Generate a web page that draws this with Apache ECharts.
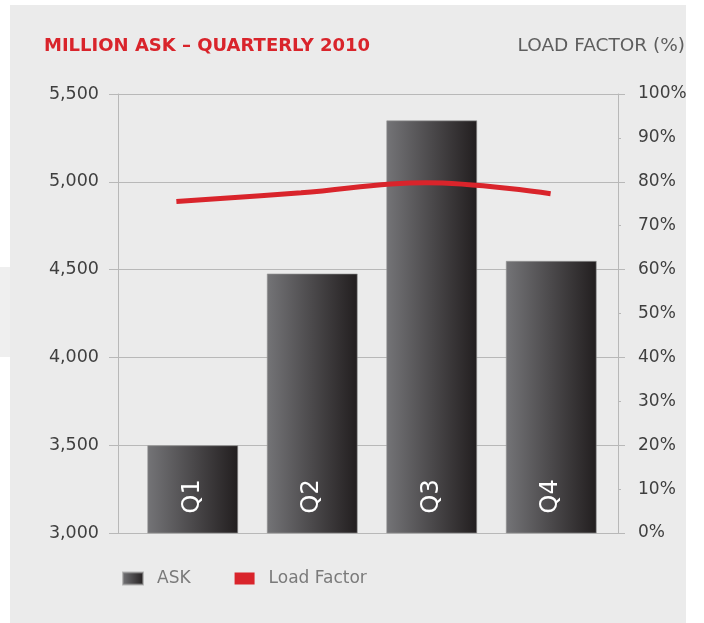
<!DOCTYPE html>
<html>
<head>
<meta charset="utf-8">
<title>Million ASK - Quarterly 2010</title>
<script src="https://cdn.jsdelivr.net/npm/echarts@6/dist/echarts.min.js"></script>
<style>
	html,body{margin:0;padding:0;background:#fff;}
	#chart{width:704px;height:623px;}
</style>
</head>
<body>
<div id="chart"></div>
<script>
// data
const quarters = ['Q1', 'Q2', 'Q3', 'Q4']
const askValues = [3500, 4478, 5350, 4550]
const loadFactor = [75.5, 77.5, 79.8, 77.3]

const askMin = 3000
const askMax = 5500
const askStep = 500

const gridColor = '#b8b8b8'
const labelColor = '#3f3f3f'
const red = '#d9242b'
const font = 'DejaVu Sans'

const chart = echarts.init(document.getElementById('chart'))

const barColor = new echarts.graphic.LinearGradient(0, 0, 1, 0, [
	{offset: 0, color: '#747477'},
	{offset: 1, color: '#221e1f'}
])

chart.setOption({
	backgroundColor: '#ffffff',
	animation: false,
	graphic: [
		{type: 'rect', z: -10, shape: {x: 10, y: 5, width: 676, height: 618}, style: {fill: '#ebebeb'}},
		{type: 'rect', z: -10, shape: {x: 0, y: 267, width: 10, height: 90}, style: {fill: '#efefef'}}
	],
	title: [
		{
			text: 'MILLION ASK \u2013 QUARTERLY 2010',
			left: 44, top: 37, padding: 0,
			textStyle: {color: red, fontFamily: font, fontWeight: 'bold', fontSize: 18}
		},
		{
			text: 'LOAD FACTOR (%)',
			right: 19, top: 37, padding: 0,
			textStyle: {color: '#5e5e5e', fontFamily: font, fontWeight: 'normal', fontSize: 18.5}
		}
	],
	legend: {
		left: 122, top: 570, padding: 0,
		itemWidth: 20, itemHeight: 12, itemGap: 44,
		textStyle: {color: '#7a7a7a', fontFamily: font, fontSize: 17, padding: [0, 0, 0, 9]},
		data: [
			{name: 'ASK', icon: 'rect'},
			{name: 'Load Factor', icon: 'rect', itemStyle: {color: red}}
		]
	},
	grid: [
		{left: 118, right: 86, top: 94, bottom: 90},
		{left: 133, right: 93, top: 94, bottom: 90},
		{left: 114, right: 91, top: 94, bottom: 90}
	],
	xAxis: [
		{type: 'category', gridIndex: 0, data: quarters, show: false},
		{type: 'category', gridIndex: 1, data: quarters, show: false},
		{type: 'category', gridIndex: 2, data: quarters, show: false}
	],
	yAxis: [
		{
			type: 'value', gridIndex: 0, position: 'left',
			min: askMin, max: askMax, interval: askStep,
			axisLine: {show: true, lineStyle: {color: gridColor}},
			axisTick: {show: true, length: 9, lineStyle: {color: gridColor}},
			axisLabel: {
				margin: 19, color: labelColor, fontFamily: font, fontSize: 17.5,
				padding: [4, 0, 0, 0],
				formatter: v => v.toLocaleString('en-US')
			},
			splitLine: {show: true, lineStyle: {color: gridColor}}
		},
		{
			type: 'value', gridIndex: 0, position: 'right',
			min: 0, max: 100, interval: 10,
			axisLine: {show: true, lineStyle: {color: gridColor}},
			axisTick: {show: true, length: 3, lineStyle: {color: gridColor}},
			axisLabel: {
				margin: 20, color: labelColor, fontFamily: font, fontSize: 17,
				padding: [4, 0, 0, 0],
				formatter: '{value}%'
			},
			splitLine: {show: false}
		},
		{
			type: 'value', gridIndex: 0, position: 'right',
			min: 0, max: 100, interval: 20,
			axisLine: {show: false},
			axisTick: {show: true, length: 7, lineStyle: {color: gridColor}},
			axisLabel: {show: false},
			splitLine: {show: false}
		},
		{type: 'value', gridIndex: 1, min: askMin, max: askMax, show: false, splitLine: {show: false}},
		{type: 'value', gridIndex: 2, min: 0, max: 100, show: false, splitLine: {show: false}}
	],
	series: [
		{
			name: 'ASK',
			type: 'bar',
			xAxisIndex: 1, yAxisIndex: 3,
			barWidth: 91,
			itemStyle: {color: barColor, borderColor: 'rgba(150,150,150,0.6)', borderWidth: 1},
			label: {
				show: true,
				position: 'insideBottom',
				distance: 20,
				rotate: 90,
				align: 'left',
				verticalAlign: 'middle',
				color: '#ffffff',
				fontFamily: font,
				fontSize: 24,
				formatter: p => p.name
			},
			data: askValues
		},
		{
			name: 'Load Factor',
			type: 'line',
			xAxisIndex: 2, yAxisIndex: 4,
			smooth: 0.4,
			symbol: 'none',
			z: 5,
			itemStyle: {color: red},
			lineStyle: {color: red, width: 5},
			data: loadFactor
		}
	]
})
</script>
</body>
</html>
